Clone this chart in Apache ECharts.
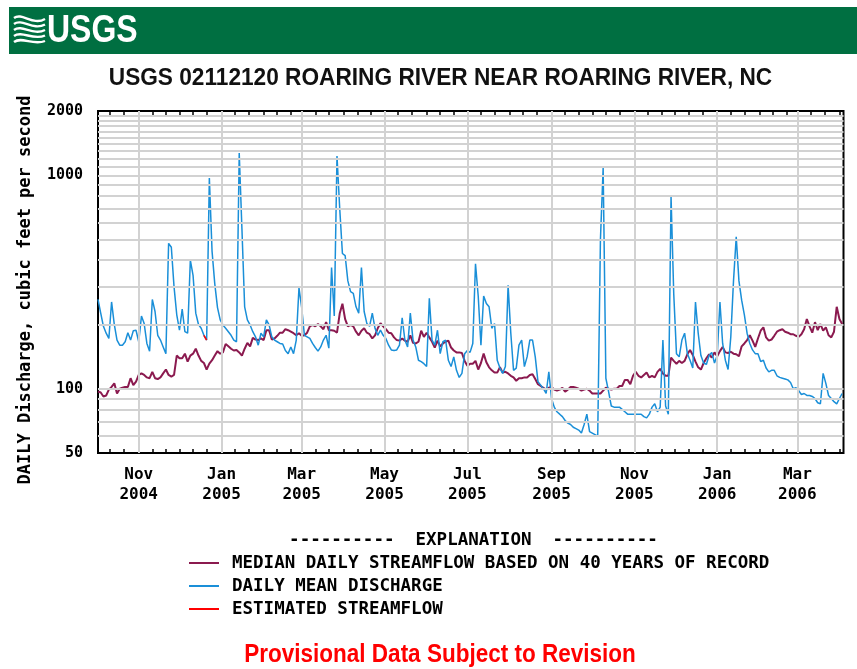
<!DOCTYPE html>
<html>
<head>
<meta charset="utf-8">
<script src="https://cdn.jsdelivr.net/npm/echarts@6/dist/echarts.min.js"></script>
<style>
  html, body { margin: 0; padding: 0; background: #fff; }
  #chart { width: 857px; height: 669px; }
</style>
</head>
<body>
<div id="chart"></div>
<script>
// values, one every 2 days starting at startDate (cfs)
const startDate = '2004-10-02'
const stepDays = 2

const dailyMean = [
  262, 226, 196, 182, 172, 255, 200, 169, 160, 160,
  166, 183, 169, 187, 188, 166, 219, 202, 163, 150,
  262, 230, 178, 169, 157, 146, 480, 460, 300, 222,
  188, 236, 185, 182, 400, 340, 226, 200, 192, 178,
  169, 970, 440, 310, 240, 210, 199, 192, 185, 178,
  169, 166, 1270, 560, 242, 210, 199, 185, 175, 160,
  182, 175, 210, 199, 175, 169, 166, 163, 162, 151,
  146, 157, 146, 169, 297, 240, 178, 175, 172, 163,
  156, 150, 157, 169, 178, 155, 370, 219, 1230, 700,
  430, 420, 320, 285, 280, 242, 226, 370, 230, 202,
  196, 226, 192, 178, 188, 178, 172, 160, 152, 151,
  152, 160, 215, 169, 157, 226, 169, 157, 136, 134,
  131, 127, 265, 169, 160, 188, 146, 166, 169, 136,
  127, 141, 122, 113, 118, 146, 151, 148, 163, 385,
  272, 160, 272, 251, 242, 192, 202, 136, 125, 118,
  127, 305, 182, 122, 125, 160, 169, 127, 141, 169,
  169, 141, 108, 104, 100, 95, 120, 90, 82, 78,
  76, 74, 71, 69, 68, 66, 65, 64, 62, 68,
  76, 63, 62, 61, 60, 500, 1080, 112, 97, 83,
  82, 82, 82, 80, 78, 76, 76, 76, 76, 76,
  76, 74, 73, 76, 82, 85, 78, 82, 169, 83,
  76, 795, 277, 146, 141, 169, 182, 146, 136, 125,
  255, 182, 143, 132, 130, 143, 148, 132, 143, 255,
  163, 136, 123, 175, 320, 515, 320, 260, 222, 182,
  163, 152, 146, 146, 134, 136, 125, 120, 122, 122,
  115, 113, 112, 111, 110, 107, 100, 101, 98, 94,
  95, 93, 93, 92, 90, 86, 85, 118, 106, 93,
  90, 87, 85, 90, 95
]

const median = [
  97, 96, 92, 93, 99, 102, 106, 95, 100, 101,
  102, 102, 112, 104, 108, 116, 118, 116, 113, 112,
  120, 112, 111, 113, 118, 123, 116, 114, 116, 143,
  139, 139, 146, 134, 143, 146, 154, 143, 135, 132,
  123, 131, 136, 143, 150, 146, 148, 162, 158, 154,
  151, 152, 148, 143, 154, 164, 158, 173, 170, 169,
  172, 169, 188, 188, 170, 172, 177, 183, 183, 190,
  188, 185, 182, 178, 182, 177, 178, 183, 196, 199,
  196, 201, 196, 190, 205, 188, 188, 187, 183, 225,
  250, 212, 196, 199, 196, 185, 178, 187, 192, 183,
  180, 172, 178, 192, 203, 196, 190, 183, 182, 174,
  169, 168, 172, 168, 166, 178, 164, 163, 166, 187,
  175, 183, 174, 166, 156, 168, 158, 163, 166, 168,
  156, 151, 148, 148, 147, 135, 128, 131, 131, 135,
  123, 132, 146, 133, 126, 122, 119, 119, 126, 119,
  120, 118, 115, 113, 109, 112, 112, 113, 113, 116,
  117, 111, 105, 103, 101, 99, 101, 102, 99, 98,
  99, 101, 97, 99, 102, 102, 101, 100, 98, 99,
  100, 98, 95, 95, 95, 95, 98, 101, 100, 99,
  100, 100, 103, 103, 110, 110, 105, 115, 120, 115,
  113, 116, 119, 113, 115, 113, 120, 124, 118, 115,
  115, 140, 135, 131, 135, 132, 135, 145, 152, 144,
  134, 126, 123, 132, 139, 145, 140, 148, 142, 150,
  157, 148, 147, 149, 146, 145, 142, 158, 163, 169,
  178, 168, 157, 172, 187, 194, 174, 168, 170, 177,
  185, 188, 190, 185, 183, 180, 180, 177, 175, 180,
  190, 212, 196, 183, 205, 188, 201, 187, 194, 178,
  174, 185, 242, 212, 201
]

// short estimated piece (drawn red)
const estimatedIdx = [39, 40]
const estimatedVal = [178, 169]

const axisMin = '2004-10-02'
const axisMax = '2006-04-04'
const labelDates = ['2004-11-01', '2005-01-01', '2005-03-01', '2005-05-01', '2005-07-01',
  '2005-09-01', '2005-11-01', '2006-01-01', '2006-03-01']
const labelTexts = ['Nov\n2004', 'Jan\n2005', 'Mar\n2005', 'May\n2005', 'Jul\n2005',
  'Sep\n2005', 'Nov\n2005', 'Jan\n2006', 'Mar\n2006']
const yGridValues = [60, 70, 80, 90, 100, 200, 300, 400, 500, 600, 700, 800, 900,
  1000, 1100, 1200, 1300, 1400, 1500, 1600, 1700, 1800, 1900]

const names = {
  median: 'MEDIAN DAILY STREAMFLOW BASED ON 40 YEARS OF RECORD',
  mean: 'DAILY MEAN DISCHARGE',
  est: 'ESTIMATED STREAMFLOW'
}

const DAY = 86400000
const ts = s => Date.parse(s + 'T00:00:00Z')
const t0 = ts(startDate)
const atIdx = i => t0 + i * stepDays * DAY

const meanData = dailyMean.map((v, i) => [atIdx(i), v])
const medianData = median.map((v, i) => [atIdx(i), v])
const estData = estimatedIdx.map((i, k) => [atIdx(i), estimatedVal[k]])

const labelTs = labelDates.map(ts)

// small ticks on the 1st, 11th and 21st of every month
const tickTs = []
for (let y = 2004; y <= 2006; y++) {
  for (let m = 0; m < 12; m++) {
    for (const d of [1, 11, 21]) {
      const t = Date.UTC(y, m, d)
      if (t > ts(axisMin) && t < ts(axisMax)) tickTs.push(t)
    }
  }
}

const mono = '"DejaVu Sans Mono", "Liberation Mono", monospace'
const sans = '"Liberation Sans", Arial, sans-serif'
const gridGray = '#d2d2d2'

const chart = echarts.init(document.getElementById('chart'))

const xTickStyle = { show: true, inside: true, length: 4, customValues: tickTs, lineStyle: { color: '#000', width: 1.5 } }

chart.setOption({
  animation: false,
  backgroundColor: '#fff',
  grid: {
    left: 98, right: 13.5, top: 111, bottom: 216,
    show: true, borderColor: '#000', borderWidth: 2, backgroundColor: 'transparent'
  },
  xAxis: [
    {
      // dates as plain timestamps on a value axis
      type: 'value',
      min: ts(axisMin),
      max: ts(axisMax),
      axisLine: { show: false },
      splitLine: { show: false },
      axisTick: xTickStyle,
      axisLabel: {
        customValues: labelTs,
        formatter: v => labelTexts[labelTs.indexOf(v)] || '',
        fontFamily: mono,
        fontWeight: 'bold',
        fontSize: 16,
        lineHeight: 20,
        color: '#000',
        margin: 12,
        hideOverlap: false
      }
    },
    {
      type: 'value',
      position: 'top',
      min: ts(axisMin),
      max: ts(axisMax),
      axisLine: { show: false },
      splitLine: { show: false },
      axisTick: xTickStyle,
      axisLabel: { show: false }
    }
  ],
  yAxis: {
    type: 'log',
    logBase: 10,
    min: 50,
    max: 2000,
    axisLine: { show: false },
    axisTick: { show: false },
    splitLine: { show: false },
    axisLabel: {
      fontFamily: mono,
      fontWeight: 'bold',
      fontSize: 15,
      color: '#000',
      margin: 15,
      formatter: v => String(Math.round(v))
    }
  },
  legend: {
    data: [names.median, names.mean, names.est],
    orient: 'vertical',
    left: 189,
    top: 553,
    padding: 0,
    icon: 'rect',
    itemWidth: 30,
    itemHeight: 2,
    itemGap: 3,
    selectedMode: false,
    textStyle: {
      fontFamily: mono,
      fontWeight: 'bold',
      fontSize: 17.5,
      lineHeight: 20,
      color: '#000',
      padding: [0, 0, 0, 8]
    }
  },
  graphic: [
    { type: 'rect', shape: { x: 9, y: 7, width: 848, height: 47 }, style: { fill: '#006f41' } },
    // wave mark
    ...[0, 1, 2, 3, 4].map(k => ({
      type: 'bezierCurve',
      shape: { x1: 14, y1: 18 + k * 6, cpx1: 22, cpy1: 12 + k * 6, cpx2: 33, cpy2: 26 + k * 5, x2: 45, y2: 19 + k * 5.5 },
      style: { stroke: '#fff', lineWidth: 2.4, fill: null }
    })),
    {
      type: 'text', x: 47, y: 31, scaleX: 0.82,
      style: { text: 'USGS', fill: '#fff', font: 'bold 39px ' + sans, textAlign: 'left', textVerticalAlign: 'middle' }
    },
    {
      type: 'text', x: 440.5, y: 79, scaleX: 0.985,
      style: { text: 'USGS 02112120 ROARING RIVER NEAR ROARING RIVER, NC', fill: '#111', font: 'bold 23px ' + sans, textAlign: 'center', textVerticalAlign: 'middle' }
    },
    {
      type: 'text', x: 26, y: 290, rotation: Math.PI / 2,
      style: { text: 'DAILY Discharge, cubic feet per second', fill: '#000', font: 'bold 17px ' + mono, textAlign: 'center', textVerticalAlign: 'middle' }
    },
    {
      type: 'text', x: 473.5, y: 540,
      style: { text: '----------  EXPLANATION  ----------', fill: '#000', font: 'bold 17.5px ' + mono, textAlign: 'center', textVerticalAlign: 'middle' }
    },
    {
      type: 'text', x: 440, y: 655, scaleX: 0.9,
      style: { text: 'Provisional Data Subject to Revision', fill: '#ff0000', font: 'bold 25px ' + sans, textAlign: 'center', textVerticalAlign: 'middle' }
    }
  ],
  series: [
    {
      name: 'grid',
      type: 'line',
      data: [],
      z: 1,
      silent: true,
      markLine: {
        silent: true,
        symbol: 'none',
        label: { show: false },
        lineStyle: { color: gridGray, width: 2, type: 'solid' },
        emphasis: { disabled: true },
        data: [
          ...yGridValues.map(v => ({ yAxis: v })),
          ...labelTs.map(t => ({ xAxis: t }))
        ]
      }
    },
    {
      name: names.median,
      type: 'line',
      data: medianData,
      z: 3,
      showSymbol: false,
      color: '#8b1a4f',
      lineStyle: { width: 2, color: '#8b1a4f' }
    },
    {
      name: names.mean,
      type: 'line',
      data: meanData,
      z: 4,
      showSymbol: false,
      color: '#1a8fd8',
      lineStyle: { width: 1.5, color: '#1a8fd8' }
    },
    {
      name: names.est,
      type: 'line',
      data: estData,
      z: 5,
      showSymbol: false,
      color: '#ff0000',
      lineStyle: { width: 1.5, color: '#ff0000' }
    }
  ]
})
</script>
</body>
</html>
